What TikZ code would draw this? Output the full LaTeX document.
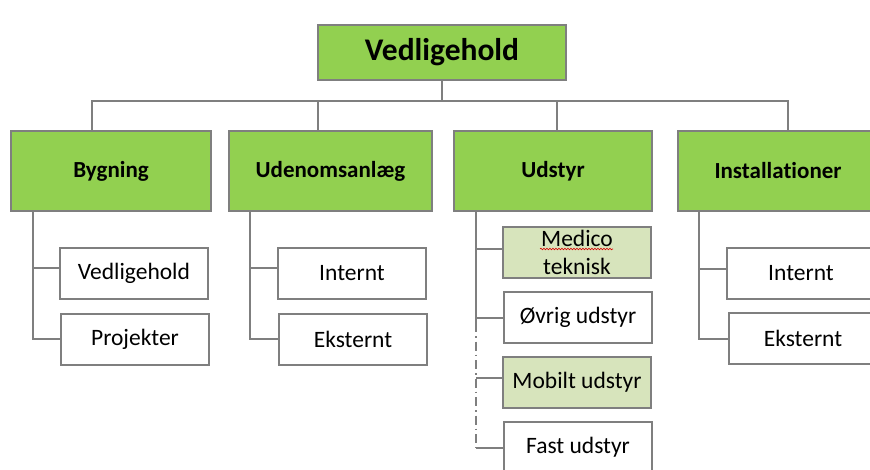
\documentclass[tikz,border=0pt]{standalone}
\usepackage{fontspec}
\setmainfont{Carlito}[Ligatures=NoCommon]
\usetikzlibrary{decorations.pathmorphing}
\definecolor{leafgreen}{HTML}{92D050}
\definecolor{palegreen}{HTML}{D7E4BC}
\definecolor{edgegray}{HTML}{7F7F7F}
\tikzset{
  box/.style={draw=edgegray, line width=2pt, inner sep=0pt, align=center, text=black},
  rootbox/.style={box, fill=leafgreen, minimum width=248pt, minimum height=55pt,
                  font=\fontsize{31.5}{34}\selectfont\bfseries},
  groupbox/.style={box, fill=leafgreen, minimum height=80pt,
                   font=\fontsize{23}{26}\selectfont\bfseries},
  leafbox/.style={box, fill=white, minimum width=148pt, minimum height=51pt,
                  font=\fontsize{23.5}{28}\selectfont},
  tintbox/.style={leafbox, fill=palegreen},
  link/.style={draw=edgegray, line width=2pt},
  dashdotlink/.style={link, line width=1.6pt, dash pattern=on 9pt off 4pt on 1.5pt off 4pt}
}
\begin{document}
\begin{tikzpicture}[x=1pt, y=-1pt]
\useasboundingbox (0,0) rectangle (870,469);
\clip (0,0) rectangle (870,469);

% root and first level
\node[rootbox] (root) at (442,52.5) {Vedligehold};
\node[groupbox, minimum width=200pt] (byg) at (111,171) {Bygning};
\node[groupbox, minimum width=203pt] (ude) at (330.5,171) {Udenomsanlæg};
\node[groupbox, minimum width=198pt] (uds) at (553,171) {Udstyr};
\node[groupbox, minimum width=200pt] (ins) at (778,171) {Installationer};

% second level
\node[leafbox] (bved)  at (134,273)   {Vedligehold};
\node[leafbox] (bproj) at (135,339)   {Projekter};
\node[leafbox] (uint)  at (352,273)   {Internt};
\node[leafbox] (uext)  at (353,339)   {Eksternt};
\node[tintbox] (med)   at (577,252.5) {Medico\\teknisk};
\node[leafbox] (ovr)   at (578,317.5) {Øvrig udstyr};
\node[tintbox] (mob)   at (577,382.5) {Mobilt udstyr};
\node[leafbox] (fast)  at (578,447.5) {Fast udstyr};
\node[leafbox] (iint)  at (801,273.5) {Internt};
\node[leafbox] (iext)  at (803,338.5) {Eksternt};

% spell-check squiggle under "Medico"
\draw[red!85!black, line width=0.6pt, decorate,
      decoration={snake, amplitude=0.8pt, segment length=3pt}]
  ([xshift=-37pt,yshift=3.5pt]med.center) -- ([xshift=36pt,yshift=3.5pt]med.center);

% bus below the root
\coordinate (bus) at (442,101);
\draw[link] (root.south) -- (bus);
\draw[link] ([xshift=-19pt]byg.north) |- (bus);
\draw[link] ([xshift=-12.5pt]ude.north) |- (bus);
\draw[link] ([xshift=4pt]uds.north) |- (bus);
\draw[link] ([xshift=10pt]ins.north) |- (bus);

% Bygning branch
\draw[link] ([xshift=-78pt]byg.south) |- ([yshift=5pt]bved.west);
\draw[link] ([xshift=-78pt]byg.south) |- (bproj.west);

% Udenomsanlæg branch
\draw[link] ([xshift=-80.5pt]ude.south) |- ([yshift=5pt]uint.west);
\draw[link] ([xshift=-80.5pt]ude.south) |- (uext.west);

% Udstyr branch
\coordinate (ut1) at (476,323);
\coordinate (ut2) at (476,448);
\draw[link] ([xshift=-77pt]uds.south) -- (ut1);
\draw[dashdotlink] (ut1) -- (ut2);
\draw[link] ([yshift=3.5pt]med.west -| ut1) -- ([yshift=3.5pt]med.west);
\draw[link] (ovr.west -| ut1) -- (ovr.west);
\draw[link] ([yshift=4.5pt]mob.west -| ut1) -- ([yshift=4.5pt]mob.west);
\draw[link] (ut2) -- (ut2 -| fast.west);

% Installationer branch
\draw[link] ([xshift=-79pt]ins.south) |- ([yshift=4.5pt]iint.west);
\draw[link] ([xshift=-79pt]ins.south) |- (iext.west);
\end{tikzpicture}
\end{document}
